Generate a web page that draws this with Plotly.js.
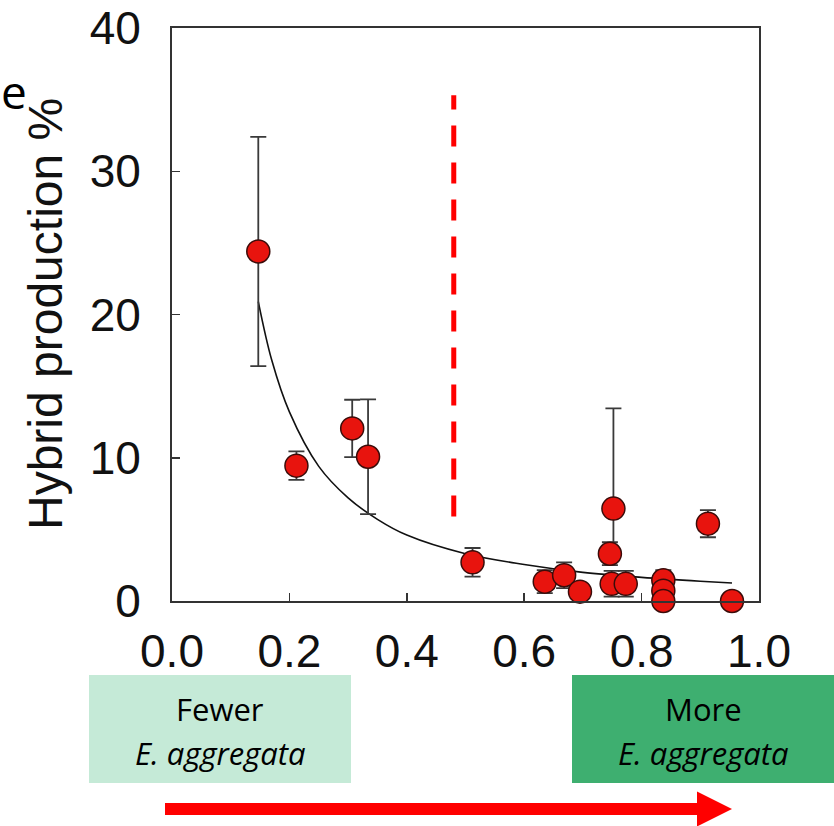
<!DOCTYPE html>
<html>
<head>
<meta charset="utf-8">
<script src="https://cdn.plot.ly/plotly-3.0.1.min.js"></script>
<style>html,body{margin:0;padding:0;background:#fff;}#chart{width:834px;height:826px;}</style>
</head>
<body>
<div id="chart"></div>
<script>
// Data
const ratio = [0.147, 0.212, 0.307, 0.334, 0.512, 0.635, 0.668, 0.695, 0.752, 0.746, 0.749, 0.773, 0.837, 0.837, 0.837, 0.913, 0.954];
const hybrid = [24.4, 9.45, 12.05, 10.07, 2.7, 1.35, 1.8, 0.65, 6.45, 3.3, 1.2, 1.2, 1.45, 0.72, 0.0, 5.4, 0.0];
const errPlus = [8.0, 1.0, 2.0, 4.0, 1.0, 0.8, 0.9, 0.5, 7.0, 0.8, 0.9, 0.9, 0.7, 0.5, 0.3, 0.95, 0.3];
const errMinus = [8.0, 1.0, 2.0, 4.0, 1.0, 0.8, 0.9, 0.5, 3.2, 0.8, 0.9, 0.9, 0.7, 0.5, 0.0, 0.95, 0.0];

// Fitted curve
const fitX = [0.147, 0.17, 0.2, 0.25, 0.3, 0.35, 0.4, 0.5, 0.6, 0.7, 0.8, 0.9, 0.954];
const fitY = [20.9, 16.8, 13.2, 9.4, 7.2, 5.7, 4.6, 3.3, 2.55, 2.0, 1.65, 1.38, 1.26];

// Threshold (dashed) line
const threshX = 0.48;
const threshY = [5.9, 35.3];

const xTicks = [0.0, 0.2, 0.4, 0.6, 0.8, 1.0];
const xTickText = ['0.0', '0.2', '0.4', '0.6', '0.8', '1.0'];
const yTicks = [0, 10, 20, 30, 40];
const yTitle = 'Hybrid production %';
const panelLabel = 'e';
const leftBox = ['Fewer', 'E. aggregata'];
const rightBox = ['More', 'E. aggregata'];

// plot area geometry helper (pixel -> paper)
const L = 172, R = 759, T = 28, B = 601;
const px = v => (v - L) / (R - L);
const py = v => (B - v) / (B - T);

const traces = [
  {
    x: fitX, y: fitY, type: 'scatter', mode: 'lines',
    line: {color: '#111', width: 1.6, shape: 'spline'},
    hoverinfo: 'skip', showlegend: false, cliponaxis: false
  },
  {
    x: ratio, y: hybrid, type: 'scatter', mode: 'markers',
    marker: {size: 23, color: '#e8140e', line: {color: '#3a0c0a', width: 1.5}},
    error_y: {type: 'data', symmetric: false, array: errPlus, arrayminus: errMinus,
              color: '#3a3a3a', thickness: 1.8, width: 8},
    showlegend: false, cliponaxis: false
  }
];

const font = 'Liberation Sans, Arial, sans-serif';
const boxFont = 'Open Sans, Lato, sans-serif';

const layout = {
  width: 834, height: 826,
  margin: {l: L, r: 834 - R, t: T, b: 826 - B, pad: 0},
  paper_bgcolor: '#fff', plot_bgcolor: '#fff',
  showlegend: false,
  xaxis: {
    range: [0, 1.0], tickvals: xTicks, ticktext: xTickText,
    ticks: 'inside', ticklen: 8, tickwidth: 1.5, tickcolor: '#333',
    showline: true, linecolor: '#333', linewidth: 2, mirror: true,
    showgrid: false, zeroline: false,
    tickfont: {family: font, size: 46, color: '#111'},
    ticklabelstandoff: 9
  },
  yaxis: {
    range: [0, 40], tickvals: yTicks,
    ticks: 'inside', ticklen: 8, tickwidth: 1.5, tickcolor: '#333',
    showline: true, linecolor: '#333', linewidth: 2, mirror: true,
    showgrid: false, zeroline: false,
    tickfont: {family: font, size: 46, color: '#111'},
    ticklabelstandoff: 20
  },
  shapes: [
    {type: 'line', xref: 'x', yref: 'y', x0: threshX, x1: threshX, y0: threshY[0], y1: threshY[1],
     line: {color: '#ff0000', width: 5, dash: '21px,16px'}},
    {type: 'rect', xref: 'paper', yref: 'paper', x0: px(89), x1: px(351), y0: py(783), y1: py(675),
     fillcolor: '#c5ead7', line: {width: 0}, layer: 'below'},
    {type: 'rect', xref: 'paper', yref: 'paper', x0: px(572), x1: px(834), y0: py(783), y1: py(675),
     fillcolor: '#3eaf70', line: {width: 0}, layer: 'below'},
    {type: 'path', xref: 'paper', yref: 'paper',
     path: 'M ' + px(165) + ' ' + py(803) + ' L ' + px(697) + ' ' + py(803) + ' L ' + px(697) + ' ' + py(791.5) +
           ' L ' + px(732) + ' ' + py(809) + ' L ' + px(697) + ' ' + py(826.5) + ' L ' + px(697) + ' ' + py(815) +
           ' L ' + px(165) + ' ' + py(815) + ' Z',
     fillcolor: '#ff0000', line: {width: 0}}
  ],
  annotations: [
    {xref: 'paper', yref: 'paper', x: px(45), y: py(314), text: yTitle, textangle: -90, showarrow: false,
     xanchor: 'center', yanchor: 'middle', font: {family: font, size: 48, color: '#111'}},
    {xref: 'paper', yref: 'paper', x: px(28), y: py(91), text: panelLabel, showarrow: false,
     xanchor: 'right', yanchor: 'middle', borderpad: 0, font: {family: boxFont, size: 46, color: '#000'}},
    {xref: 'paper', yref: 'paper', x: px(220), y: py(709), text: leftBox[0], showarrow: false,
     xanchor: 'center', yanchor: 'middle', font: {family: boxFont, size: 31, color: '#000'}},
    {xref: 'paper', yref: 'paper', x: px(220), y: py(753), text: '<i>' + leftBox[1] + '</i>', showarrow: false,
     xanchor: 'center', yanchor: 'middle', font: {family: boxFont, size: 31, color: '#000'}},
    {xref: 'paper', yref: 'paper', x: px(703), y: py(709), text: rightBox[0], showarrow: false,
     xanchor: 'center', yanchor: 'middle', font: {family: boxFont, size: 31, color: '#000'}},
    {xref: 'paper', yref: 'paper', x: px(703), y: py(753), text: '<i>' + rightBox[1] + '</i>', showarrow: false,
     xanchor: 'center', yanchor: 'middle', font: {family: boxFont, size: 31, color: '#000'}}
  ]
};

Plotly.newPlot('chart', traces, layout, {displayModeBar: false, staticPlot: true});
</script>
</body>
</html>
